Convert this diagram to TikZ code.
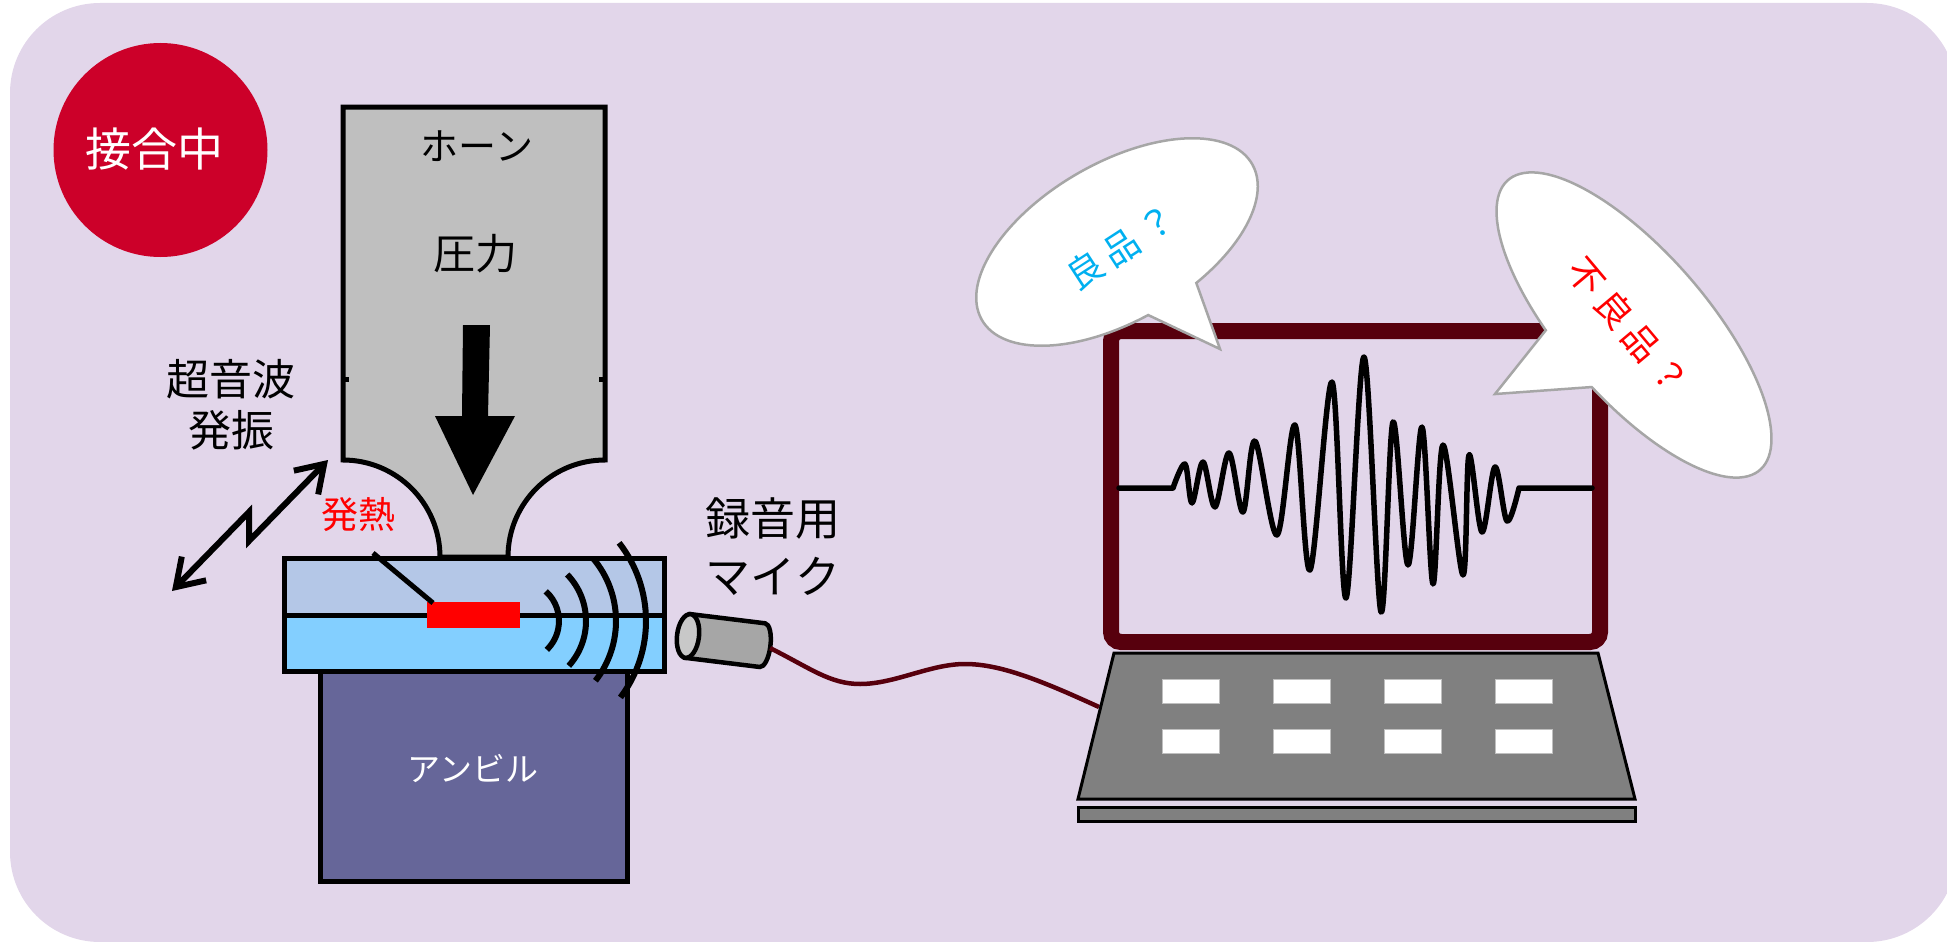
\documentclass[tikz,border=0pt]{standalone}
\usepackage{fontspec}
\newfontfamily\jpfont{Noto Sans CJK JP}
\usetikzlibrary{arrows.meta}
\definecolor{bgpurple}{HTML}{E2D6EA}
\definecolor{badgered}{HTML}{CC0029}
\definecolor{horngray}{HTML}{BFBFBF}
\definecolor{upperplate}{HTML}{B4C7E7}
\definecolor{lowerplate}{HTML}{83CFFF}
\definecolor{anvilblue}{HTML}{666699}
\definecolor{maroon}{HTML}{57000D}
\definecolor{kbgray}{HTML}{808080}
\definecolor{micbody}{HTML}{A6A6A6}
\definecolor{micface}{HTML}{C8C8C8}
\definecolor{bubbleedge}{HTML}{A6A6A6}
\definecolor{okcyan}{HTML}{00B0F0}
\newcommand\jpsz[2]{\fontsize{#1}{#2}\selectfont\jpfont}
\newcommand\gapk{\kern7pt}

\begin{document}
\begin{tikzpicture}[x=1pt,y=-1pt,
  lbl/.style={inner sep=0pt,align=center},
  solid5/.style={draw=black,line width=5pt},
  wavearc/.style={draw=black,line width=6pt},
  keycap/.style={fill=white,draw=horngray,line width=1pt},
  bubble/.style={fill=white,draw=bubbleedge,line width=2.5pt,line join=miter},
  signal/.style={draw=black,line width=5.5pt,line join=round,line cap=round}]

\useasboundingbox (0,0) rectangle (1947,942);
\clip (0,0) rectangle (1947,942);

% backdrop panel
\fill[bgpurple,rounded corners=90pt] (10,3) rectangle (1957,942);

% status badge
\node[circle,fill=badgered,minimum size=214pt,inner sep=0pt] (badge) at (160.5,150) {};
\node[lbl,text=white,font={\jpsz{46pt}{46pt}}] (badgetext) at (154,149) {接合中};

% horn
\draw[solid5,fill=horngray] (440,557) arc[start angle=0,end angle=-90,radius=97]
  -- (343,107) -- (605,107) -- (605,460) arc[start angle=-90,end angle=-180,radius=97] -- cycle;
\fill[black] (343,377) rectangle (349,382);
\fill[black] (599,377) rectangle (605,382);
\node[lbl,font={\jpsz{38pt}{38pt}}] (horntext) at (477,146) {ホーン};
\node[lbl,font={\jpsz{42pt}{42pt}}] (presstext) at (475,254) {圧力};
\fill[black] (463,325) -- (490,325) -- (488,416) -- (515,416) -- (473,495)
  -- (435,416) -- (462,416) -- cycle;

% anvil
\draw[solid5,fill=anvilblue] (320,669) rectangle (627,881);
\node[lbl,text=white,font={\jpsz{33pt}{33pt}}] (anviltext) at (473,769) {アンビル};

% workpiece layers
\draw[solid5,fill=upperplate] (284,558) rectangle (664,615);
\draw[solid5,fill=lowerplate] (284,615) rectangle (664,671);
\fill[red] (427,602) rectangle (520,628);
\coordinate (heatspot) at (433,603);
\coordinate (heatlead) at (373,553);
\draw[black,line width=5pt] (heatlead) -- (heatspot);
\node[lbl,text=red,font={\jpsz{37pt}{37pt}}] (heattext) at (358,515) {発熱};

% sound waves leaving the joint
\coordinate (src) at (519,621);
\draw[wavearc] (src) ++(-48:40) arc[start angle=-48,end angle=46,radius=40];
\draw[wavearc] (src) ++(-44:67) arc[start angle=-44,end angle=42,radius=67];
\draw[wavearc] (src) ++(-40:97) arc[start angle=-40,end angle=38,radius=97];
\draw[wavearc] (src) ++(-38:127) arc[start angle=-38,end angle=37,radius=127];

% vibration arrow
\coordinate (vibA) at (172,591);
\coordinate (vibB) at (328,460);
\draw[black,line width=6pt,{Straight Barb[length=26pt,width=34pt]}-{Straight Barb[length=26pt,width=34pt]}]
  (vibA) -- (249,512) -- (249,541) -- (vibB);
\node[lbl,font={\jpsz{43pt}{51pt}}] (vibtext) at (231,405) {超音波\\発振};

% microphone
\node[lbl,font={\jpsz{45pt}{58pt}}] (mictext) at (773,547) {録音用\\マイク};
\begin{scope}[rotate around={-7:(688,636)}]
  \draw[black,line width=4.5pt,fill=micbody] (688,614) -- (763,614)
    arc[start angle=-90,end angle=90,x radius=8,y radius=22] -- (688,658) -- cycle;
  \draw[black,line width=4.5pt,fill=micface] (688,636) ellipse[x radius=11,y radius=22];
  \coordinate (micout) at (771,638);
\end{scope}

% laptop base
\coordinate (kbin) at (1099,707);
\draw[maroon,line width=4.5pt] (micout) .. controls (810,668) and (830,684) .. (860,684)
  .. controls (895,684) and (930,664) .. (965,664)
  .. controls (1000,664) and (1040,680) .. (kbin);
\draw[black,line width=3pt,fill=kbgray] (1114,653) -- (1598,653) -- (1635,799) -- (1078,799) -- cycle;
\draw[black,line width=3pt,fill=kbgray] (1078,807) rectangle (1635,821);
\foreach \kx in {1162,1273,1384,1495}{
  \draw[keycap] (\kx,679) rectangle ++(57,24);
  \draw[keycap] (\kx,729) rectangle ++(57,24);
}

% screen and signal
\draw[maroon,line width=16pt,rounded corners=10pt] (1111,331) rectangle (1600,642);
\draw[signal] (1119,488) -- (1173,488)
  plot[smooth,tension=0.55] coordinates {(1173,488) (1185,464) (1192,503) (1203,462)
  (1215,507) (1229,453) (1243,512) (1255,441) (1277,535) (1295,425) (1310,570)
  (1332,382) (1346,598) (1364,357) (1381,612) (1393,422) (1408,565) (1422,427)
  (1433,584) (1443,445) (1463,575) (1469,455) (1482,532) (1495,467) (1507,521)
  (1519,488)} -- (1592,488);

% speech bubbles
\begin{scope}[rotate around={30:(1117,242)}]
  \path[bubble] (1117,242) ++(93.5:156 and 79)
    arc[start angle=93.5,end angle=432,x radius=156,y radius=79]
    -- (1152.7,386.2) -- cycle;
\end{scope}
\node[lbl,text=okcyan,rotate=33,font={\jpsz{36pt}{36pt}}] (goodtext) at (1121,247) {良\gapk 品\gapk ？};

\begin{scope}[rotate around={-49:(1634,325)}]
  \path[bubble] (1634,325) ++(106.3:192 and 73)
    arc[start angle=106.3,end angle=444.3,x radius=192,y radius=73]
    -- (1594.9,475.2) -- cycle;
\end{scope}
\node[lbl,text=red,rotate=-50,font={\jpsz{36pt}{36pt}}] (badtext) at (1628,326) {不\gapk 良\gapk 品\gapk ？};

\end{tikzpicture}
\end{document}
